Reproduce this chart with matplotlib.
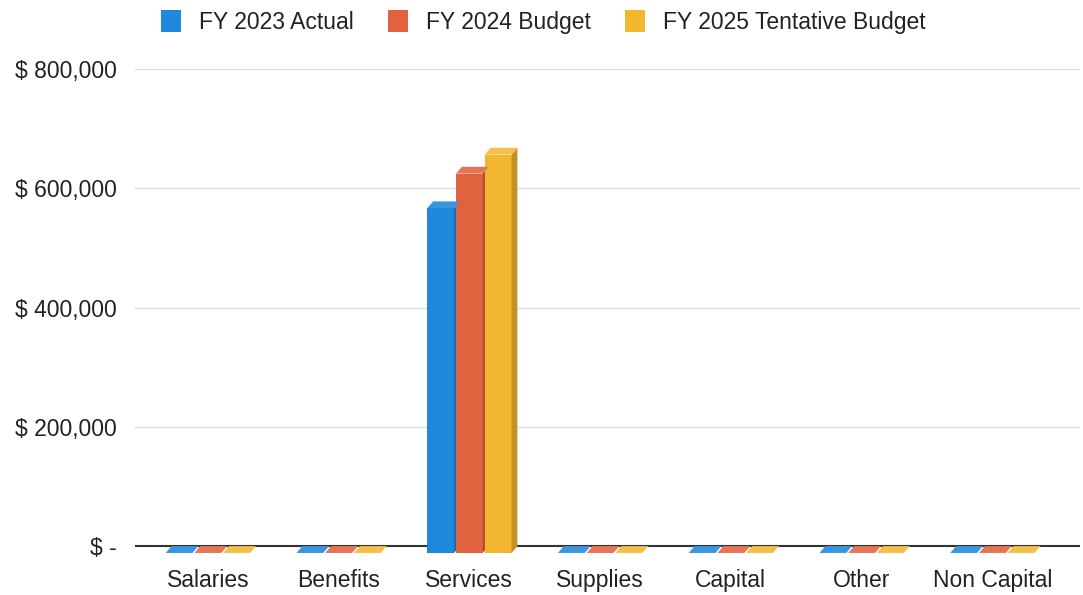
import numpy as np
import matplotlib.pyplot as plt
from matplotlib.patches import Polygon
from matplotlib.ticker import FuncFormatter

categories = ['Salaries', 'Benefits', 'Services', 'Supplies', 'Capital', 'Other', 'Non Capital']
fy2023_actual = [0, 0, 578000, 0, 0, 0, 0]
fy2024_budget = [0, 0, 636000, 0, 0, 0, 0]
fy2025_tentative = [0, 0, 668000, 0, 0, 0, 0]
series_names = ['FY 2023 Actual', 'FY 2024 Budget', 'FY 2025 Tentative Budget']
yticks = [0, 200000, 400000, 600000, 800000]


def shade(color, f):
    c = np.array(plt.matplotlib.colors.to_rgb(color))
    if f > 1:
        return tuple(c + (1 - c) * (f - 1))
    return tuple(c * f)


def money(v, pos):
    if v == 0:
        return '$ -'
    return '$ {:,.0f}'.format(v)


def main():
    plt.rcParams['font.family'] = ['Liberation Sans', 'DejaVu Sans']

    fig = plt.figure(figsize=(10.83, 5.95), dpi=100)
    ax = fig.add_axes([135 / 1083, 1 - 561 / 595, 945 / 1083, (561 - 69) / 595])

    colors = ['#1E88DA', '#E0623F', '#F2B72F']
    data = [fy2023_actual, fy2024_budget, fy2025_tentative]
    x = np.arange(len(categories))
    width = 0.205
    offsets = [-0.22, 0.0, 0.22]
    dx = 0.045      # depth in category units
    dy = 11500      # depth in value units

    ax.set_xlim(-0.557, 6.67)
    ax.set_ylim(-25000, 800000)

    for v in yticks[1:]:
        ax.axhline(v, color='#dcdcdc', lw=1.0, zorder=0)
    ax.axhline(0, color='#333333', lw=1.5, zorder=1)

    for vals, col, off, name in zip(data, colors, offsets, series_names):
        for xi, v in zip(x, vals):
            x0 = xi + off - width / 2
            x1 = x0 + width
            # front face
            if v > 0:
                ax.bar(x0, v, width=width, bottom=-dy, align='edge', color=col,
                       edgecolor='none', zorder=3)
                side = Polygon([(x1, -dy), (x1 + dx, 0), (x1 + dx, v), (x1, v - dy)],
                               closed=True, facecolor=shade(col, 0.8), edgecolor='none', zorder=3)
                ax.add_patch(side)
            top = Polygon([(x0, v - dy), (x1, v - dy), (x1 + dx, v), (x0 + dx, v)],
                          closed=True, facecolor=shade(col, 1.12), edgecolor='none', zorder=4)
            ax.add_patch(top)
        ax.bar(0, 0, width=0, color=col, label=name)

    ax.set_yticks(yticks)
    ax.yaxis.set_major_formatter(FuncFormatter(money))
    ax.set_xticks(x)
    ax.set_xticklabels(categories)
    ax.tick_params(axis='both', length=0, labelsize=16.5, colors='#222222')
    ax.tick_params(axis='y', pad=13)
    ax.tick_params(axis='x', pad=6)
    for s in ax.spines.values():
        s.set_visible(False)

    leg = fig.legend(loc='upper center', bbox_to_anchor=(0.502, 1.018), ncol=3, frameon=False,
                     fontsize=16.5, handlelength=0.85, handleheight=1.1, handletextpad=0.8,
                     columnspacing=1.5)
    for t in leg.get_texts():
        t.set_color('#222222')

    plt.savefig('out.png', dpi=100)


if __name__ == "__main__":
    main()
